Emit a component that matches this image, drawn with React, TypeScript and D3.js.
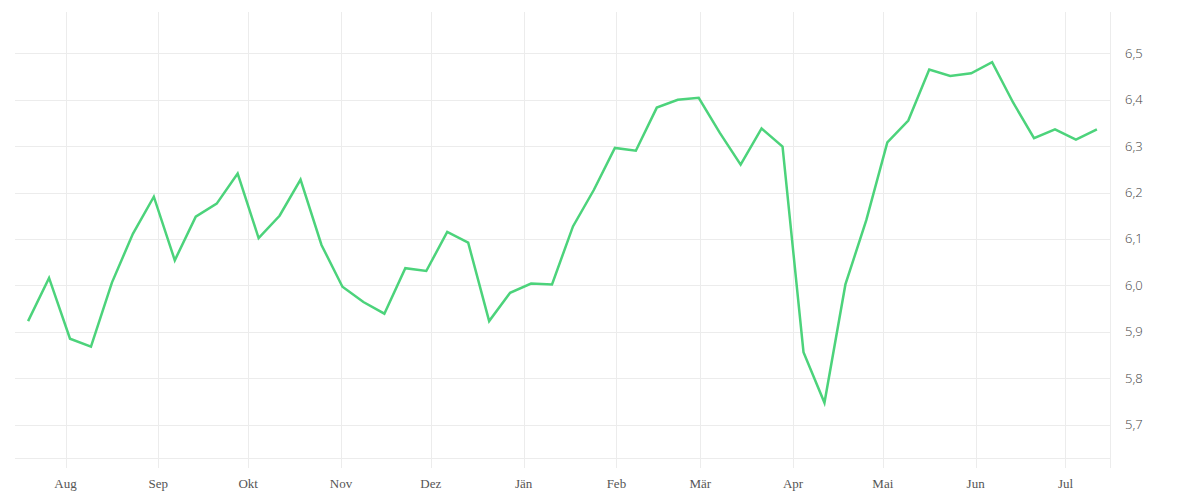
import React, { useEffect, useRef } from "react";
import * as d3 from "d3";

const dates: string[] = [
  "2022-07-19","2022-07-26","2022-08-02","2022-08-09","2022-08-16","2022-08-23","2022-08-30",
  "2022-09-06","2022-09-13","2022-09-20","2022-09-27","2022-10-04","2022-10-11","2022-10-18",
  "2022-10-25","2022-11-01","2022-11-08","2022-11-15","2022-11-22","2022-11-29","2022-12-06",
  "2022-12-13","2022-12-20","2022-12-27","2023-01-03","2023-01-10","2023-01-17","2023-01-24",
  "2023-01-31","2023-02-07","2023-02-14","2023-02-21","2023-02-28","2023-03-07","2023-03-14",
  "2023-03-21","2023-03-28","2023-04-04","2023-04-11","2023-04-18","2023-04-25","2023-05-02",
  "2023-05-09","2023-05-16","2023-05-23","2023-05-30","2023-06-06","2023-06-13","2023-06-20",
  "2023-06-27","2023-07-04","2023-07-11",
];

const values: number[] = [
  5.923, 6.016, 5.885, 5.868, 6.006, 6.111, 6.191,
  6.054, 6.148, 6.176, 6.241, 6.102, 6.150, 6.228,
  6.087, 5.997, 5.964, 5.939, 6.037, 6.031, 6.115,
  6.092, 5.923, 5.984, 6.004, 6.002, 6.127, 6.206,
  6.296, 6.290, 6.383, 6.400, 6.404, 6.329, 6.260,
  6.338, 6.299, 5.856, 5.747, 6.002, 6.141, 6.308,
  6.355, 6.465, 6.451, 6.457, 6.481, 6.394, 6.317,
  6.336, 6.314, 6.336,
];

const monthLabels: string[] = ["Aug","Sep","Okt","Nov","Dez","Jän","Feb","Mär","Apr","Mai","Jun","Jul"];
const yTicks: number[] = [5.7, 5.8, 5.9, 6.0, 6.1, 6.2, 6.3, 6.4, 6.5];

const W = 1200;
const H = 500;

export default function App() {
  const ref = useRef<SVGSVGElement>(null);

  useEffect(() => {
    const svg = d3.select(ref.current);
    svg.selectAll("*").remove();

    const parse = d3.timeParse("%Y-%m-%d");
    const data = dates.map((s, i) => ({ date: d3.timeHour.offset(parse(s) as Date, 12), value: values[i] }));

    const left = 13, right = 1110, top = 12, bottom = 458;
    const x = d3.scaleTime()
      .domain([new Date(2022, 6, 14, 11), new Date(2023, 6, 15, 21)])
      .range([left, right]);
    const y = d3.scaleLinear().domain([5.628, 6.589]).range([bottom, top]);

    const monthTicks = d3.timeMonth.range(new Date(2022, 7, 1), new Date(2023, 6, 2));
    const grid = "#ececec";
    const g = svg.append("g");

    g.selectAll("line.h")
      .data(yTicks)
      .join("line")
      .attr("x1", 15).attr("x2", right)
      .attr("y1", (d) => Math.round(y(d)) + 0.5).attr("y2", (d) => Math.round(y(d)) + 0.5)
      .attr("stroke", grid).attr("stroke-width", 1);
    g.append("line")
      .attr("x1", 15).attr("x2", right)
      .attr("y1", bottom + 0.5).attr("y2", bottom + 0.5)
      .attr("stroke", grid).attr("stroke-width", 1);

    g.selectAll("line.v")
      .data(monthTicks)
      .join("line")
      .attr("x1", (d) => Math.round(x(d)) + 0.5).attr("x2", (d) => Math.round(x(d)) + 0.5)
      .attr("y1", top).attr("y2", bottom + 10)
      .attr("stroke", grid).attr("stroke-width", 1);
    g.append("line")
      .attr("x1", right + 0.5).attr("x2", right + 0.5)
      .attr("y1", top).attr("y2", bottom + 10)
      .attr("stroke", grid).attr("stroke-width", 1);

    g.selectAll("text.x")
      .data(monthTicks)
      .join("text")
      .attr("x", (d) => x(d))
      .attr("y", 488)
      .attr("text-anchor", "middle")
      .attr("font-family", "'Liberation Serif', serif")
      .attr("font-size", 13)
      .attr("fill", "#555")
      .text((d, i) => monthLabels[i]);

    g.selectAll("text.y")
      .data(yTicks)
      .join("text")
      .attr("x", 1125)
      .attr("y", (d) => y(d))
      .attr("dy", "0.35em")
      .attr("font-family", "'Open Sans', sans-serif")
      .attr("font-weight", 300)
      .attr("font-size", 13)
      .attr("fill", "#444")
      .text((d) => d.toFixed(1).replace(".", ","));

    const line = d3.line<{ date: Date; value: number }>()
      .x((d) => x(d.date))
      .y((d) => y(d.value));

    g.append("path")
      .datum(data)
      .attr("d", line)
      .attr("fill", "none")
      .attr("stroke", "#4cd37b")
      .attr("stroke-width", 2.5)
      .attr("stroke-linejoin", "miter");
  }, []);

  return (
    <svg
      ref={ref}
      width={W}
      height={H}
      style={{ position: "absolute", left: 0, top: 0, background: "#fff" }}
    />
  );
}
